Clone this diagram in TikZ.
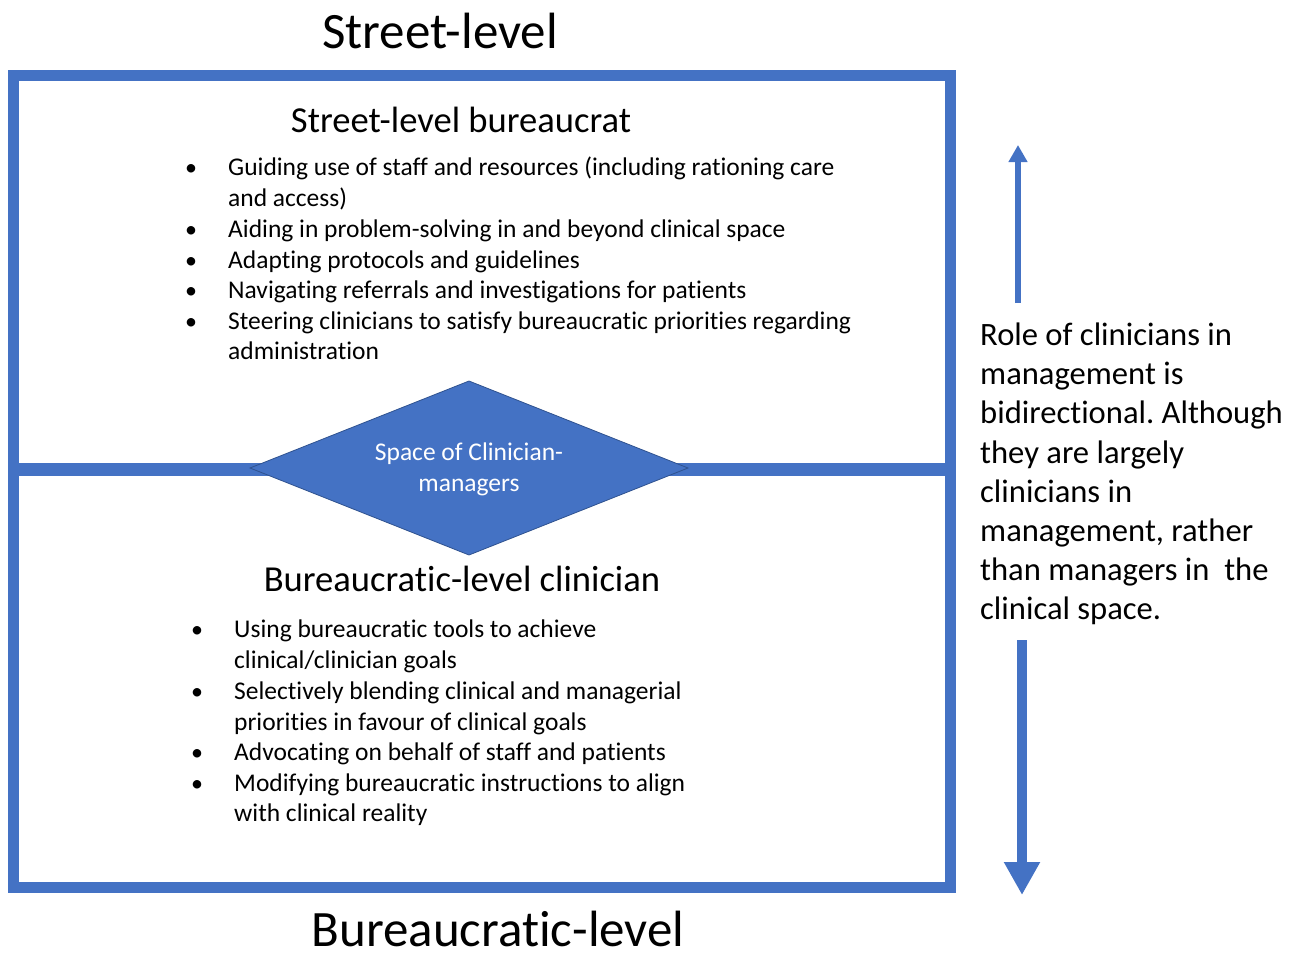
\documentclass[tikz,border=0pt]{standalone}
\usepackage{fontspec}
\setmainfont{Carlito}[Ligatures=NoCommon]
\frenchspacing
\usetikzlibrary{arrows.meta}
\definecolor{frameblue}{HTML}{4472C4}
\definecolor{edgeblue}{HTML}{2F528F}
\begin{document}
\begin{tikzpicture}[x=1pt,y=-1pt,
  itemline/.style={anchor=base west, inner sep=0pt, font=\fontsize{25.5}{30}\selectfont},
  dot/.style={anchor=base, inner sep=0pt, font=\fontsize{24}{30}\selectfont},
  heading/.style={anchor=base, inner sep=0pt, font=\fontsize{36.6}{40}\selectfont},
  level/.style={anchor=base, inner sep=0pt, text depth=0pt, font=\fontsize{51}{56}\selectfont},
  note/.style={anchor=base west, inner sep=0pt, font=\fontsize{32.6}{38}\selectfont},
  arrowline/.style={draw=frameblue, color=frameblue}]
\useasboundingbox (0,0) rectangle (1302,956);

% outer frame and dividing bar
\draw[frameblue, line width=11pt] (13,75.5) rectangle (950.5,887);
\draw[frameblue, line width=13pt] (13,469.5) -- (950.5,469.5);

% level labels
\node[level] (streetlevel) at (440,48) {Street-level};
\node[level] (bureaulevel) at (498,946) {Bureaucratic-level};

% upper panel
\node[heading] (sheading) at (461,132) {Street-level bureaucrat};
\node[dot] (sd1) at (191,175) {•};
\node[itemline] (s1a) at (228,175) {Guiding use of staff and resources (including rationing care};
\node[itemline] (s1b) at (228,206) {and access)};
\node[dot] (sd2) at (191,237) {•};
\node[itemline] (s2) at (228,237) {Aiding in problem-solving in and beyond clinical space};
\node[dot] (sd3) at (191,268) {•};
\node[itemline] (s3) at (228,268) {Adapting protocols and guidelines};
\node[dot] (sd4) at (191,298) {•};
\node[itemline] (s4) at (228,298) {Navigating referrals and investigations for patients};
\node[dot] (sd5) at (191,329) {•};
\node[itemline] (s5a) at (228,329) {Steering clinicians to satisfy bureaucratic priorities regarding};
\node[itemline] (s5b) at (228,359) {administration};

% central diamond
\coordinate (dl) at (250,468);
\coordinate (dt) at (469,381);
\coordinate (dr) at (688,468);
\coordinate (db) at (469,555);
\filldraw[fill=frameblue, draw=edgeblue, line width=0.8pt] (dl) -- (dt) -- (dr) -- (db) -- cycle;
\node[text=white, align=center, inner sep=0pt, font=\fontsize{25.5}{31}\selectfont]
      (space) at (469,469) {Space of Clinician-\\managers};

% lower panel
\node[heading] (bheading) at (462,591) {Bureaucratic-level clinician};
\node[dot] (bd1) at (197,637) {•};
\node[itemline] (b1a) at (234,637) {Using bureaucratic tools to achieve};
\node[itemline] (b1b) at (234,668) {clinical/clinician goals};
\node[dot] (bd2) at (197,699) {•};
\node[itemline] (b2a) at (234,699) {Selectively blending clinical and managerial};
\node[itemline] (b2b) at (234,730) {priorities in favour of clinical goals};
\node[dot] (bd3) at (197,760) {•};
\node[itemline] (b3) at (234,760) {Advocating on behalf of staff and patients};
\node[dot] (bd4) at (197,791) {•};
\node[itemline] (b4a) at (234,791) {Modifying bureaucratic instructions to align};
\node[itemline] (b4b) at (234,821) {with clinical reality};

% side note
\node[note] (n1) at (980,345) {Role of clinicians in};
\node[note] (n2) at (980,384) {management is};
\node[note] (n3) at (980,423) {bidirectional. Although};
\node[note] (n4) at (980,463) {they are largely};
\node[note] (n5) at (980,502) {clinicians in};
\node[note] (n6) at (980,541) {management, rather};
\node[note] (n7) at (980,580) {than managers in\ \ the};
\node[note] (n8) at (980,619) {clinical space.};

% direction arrows
\coordinate (upfrom) at (1018,303);
\coordinate (upto) at (1018,145);
\coordinate (downfrom) at (1022,640);
\coordinate (downto) at (1022,895);
\draw[arrowline, line width=6pt, -{Triangle[width=18pt,length=17pt]}] (upfrom) -- (upto);
\draw[arrowline, line width=10pt, -{Triangle[width=34pt,length=33pt]}] (downfrom) -- (downto);
\end{tikzpicture}
\end{document}
